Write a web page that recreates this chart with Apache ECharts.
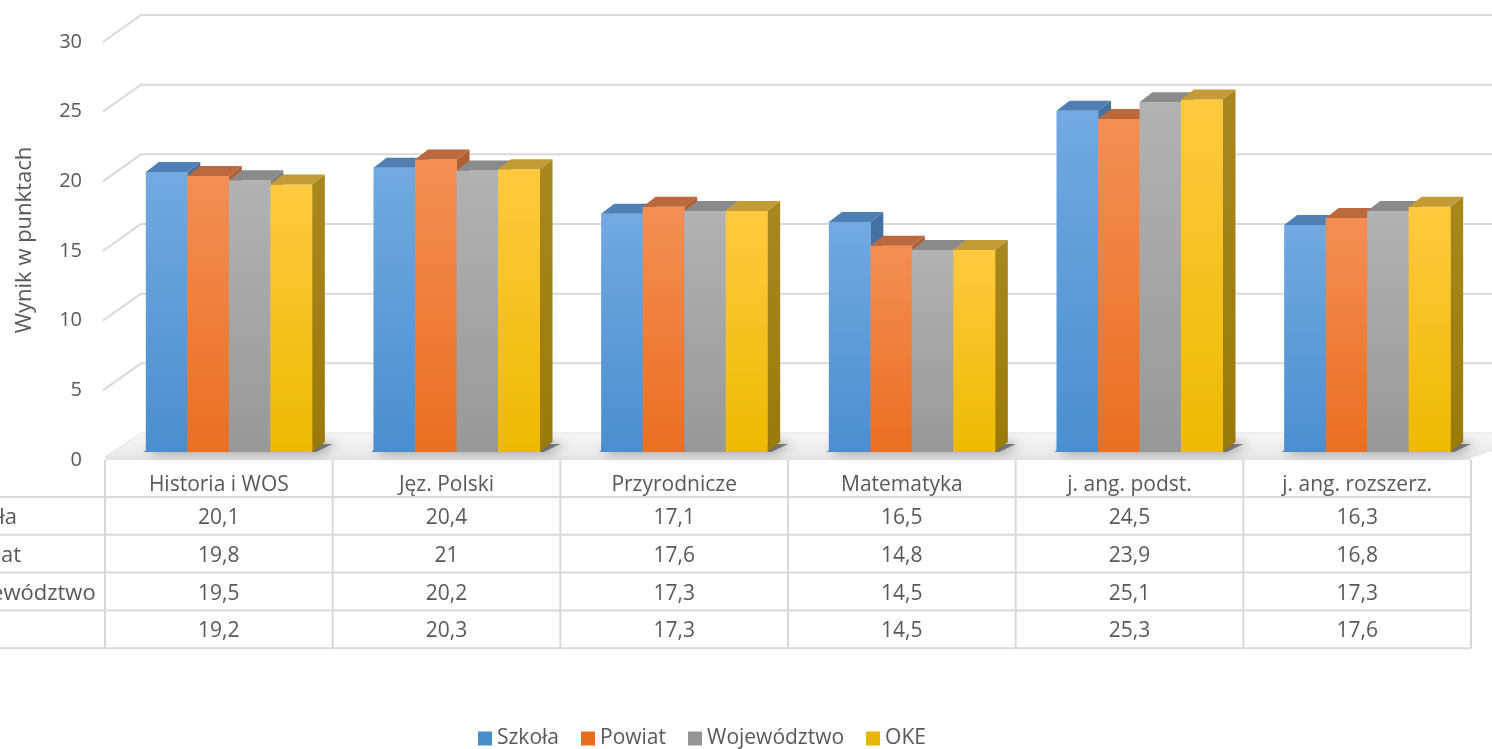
<!DOCTYPE html>
<html>
<head>
<meta charset="utf-8">
<script src="https://cdn.jsdelivr.net/npm/echarts@6/dist/echarts.min.js"></script>
<style>html,body{margin:0;padding:0;background:#fff}#c{width:1492px;height:749px}</style>
</head>
<body>
<div id="c"></div>
<script>
const categories = ['Historia i WOS', 'Jęz. Polski', 'Przyrodnicze', 'Matematyka', 'j. ang. podst.', 'j. ang. rozszerz.'];
const seriesNames = ['Szkoła', 'Powiat', 'Województwo', 'OKE'];
const szkola = [20.1, 20.4, 17.1, 16.5, 24.5, 16.3];
const powiat = [19.8, 21, 17.6, 14.8, 23.9, 16.8];
const wojewodztwo = [19.5, 20.2, 17.3, 14.5, 25.1, 17.3];
const oke = [19.2, 20.3, 17.3, 14.5, 25.3, 17.6];
const yTicks = [0, 5, 10, 15, 20, 25, 30];
const axisTitle = 'Wynik w punktach';

const values = [szkola, powiat, wojewodztwo, oke];
const FONT = '"Open Sans", "Noto Sans", sans-serif';
const TXT = '#595959';
const LINE = '#D9D9D9';

const palette = [
  {legend: '#4A8DCD', fTop: '#72A9E0', fBot: '#4A8ED1', top: '#5080B3', side: '#4672A3', sideBot: '#3E6898'},
  {legend: '#E96D1E', fTop: '#F48E55', fBot: '#EA6F20', top: '#BA683C', side: '#B25E30', sideBot: '#A65526'},
  {legend: '#959595', fTop: '#B2B2B2', fBot: '#989898', top: '#8A8A8A', side: '#808080', sideBot: '#767676'},
  {legend: '#E8B700', fTop: '#FFC93F', fBot: '#EEBA00', top: '#C49B34', side: '#A8871F', sideBot: '#9A7A08'}
];
const DX = 13, DY = -10;
const FRONT_DX = -10, FRONT_DY = 8;
const BACK_DX = 26, BACK_DY = -19;

function fmt(v) { return String(v).replace('.', ','); }

function barRender(s) {
  return function (params, api) {
    const i = api.value(0), v = api.value(1);
    const top = api.coord([i, v]);
    const base = api.coord([i, 0]);
    const band = api.size([1, 0])[0];
    const bw = band * 0.1823;
    const x0 = top[0] + (s - 2) * bw;
    const x1 = x0 + bw;
    const yt = top[1], yb = base[1];
    const c = palette[s];
    return {
      type: 'group',
      children: [
        {type: 'polygon', shape: {points: [[x1, yt], [x1 + DX, yt + DY], [x1 + DX, yb + DY], [x1, yb]]},
          style: {fill: new echarts.graphic.LinearGradient(0, 0, 0, 1, [{offset: 0, color: c.side}, {offset: 1, color: c.sideBot}])}},
        {type: 'rect', shape: {x: x0, y: yt, width: bw + 0.5, height: yb - yt},
          style: {fill: new echarts.graphic.LinearGradient(0, 0, 0, 1, [{offset: 0, color: c.fTop}, {offset: 1, color: c.fBot}])}},
        {type: 'polygon', shape: {points: [[x0, yt], [x1, yt], [x1 + DX, yt + DY], [x0 + DX, yt + DY]]},
          style: {fill: c.top}}
      ]
    };
  };
}

function wallsRender(params, api) {
  const v = api.value(1);
  const cs = params.coordSys;
  const gx = cs.x, gw = cs.width;
  const y = api.coord([0, v])[1];
  if (v === 0) {
    return {
      type: 'group',
      children: [
        {type: 'polygon', shape: {points: [[gx + FRONT_DX, y + FRONT_DY - 3], [gx + gw + FRONT_DX, y + FRONT_DY - 3], [gx + gw + BACK_DX + 40, y + BACK_DY], [gx + BACK_DX, y + BACK_DY]]},
          style: {fill: new echarts.graphic.LinearGradient(0, 0, 0, 1, [{offset: 0, color: '#F7F7F7'}, {offset: 1, color: '#E8E8E8'}]), stroke: '#E3E3E3', lineWidth: 1}},
        {type: 'rect', shape: {x: gx + FRONT_DX, y: y + FRONT_DY - 3, width: gw, height: 3},
          style: {fill: '#E4E4E4'}}
      ]
    };
  }
  return {
    type: 'polyline',
    shape: {points: [[gx + FRONT_DX - 2, y + FRONT_DY], [gx + BACK_DX, y + BACK_DY], [gx + gw + 80, y + BACK_DY]]},
    style: {stroke: LINE, lineWidth: 2, fill: null}
  };
}

function shadowRender(params, api) {
  const i = api.value(0);
  const base = api.coord([i, 0]);
  const band = api.size([1, 0])[0];
  const bw = band * 0.1823;
  const l = base[0] - 2 * bw, r = base[0] + 2 * bw;
  const y = base[1];
  return {
    type: 'polygon',
    shape: {points: [[l - 2, y], [r + 4, y], [r + DX + 8, y - 8], [l + DX - 6, y - 8]]},
    style: {fill: 'rgba(60,60,60,0.6)', shadowBlur: 12, shadowColor: 'rgba(0,0,0,0.75)', shadowOffsetX: 4, shadowOffsetY: 0}
  };
}

function tableRender(params, api) {
  const i = api.value(0);
  const base = api.coord([i, 0]);
  const band = api.size([1, 0])[0];
  const left = base[0] - band / 2 + FRONT_DX;
  const right = left + band;
  const cx = (left + right) / 2;
  const top = base[1] + FRONT_DY;
  const headH = 37;
  const rowH = 37.8;
  const bottom = top + headH + rowH * 4;
  const kids = [];
  const textStyle = (t, x, y, align, size) => ({type: 'text', style: {text: t, x: x, y: y, align: align || 'center', verticalAlign: 'middle', font: (size || 21) + 'px ' + FONT, fill: TXT}});
  kids.push({type: 'line', shape: {x1: left, y1: top, x2: left, y2: bottom}, style: {stroke: LINE, lineWidth: 2}});
  if (i === categories.length - 1) {
    kids.push({type: 'line', shape: {x1: right, y1: top, x2: right, y2: bottom}, style: {stroke: LINE, lineWidth: 2}});
  }
  for (let k = 1; k <= 4; k++) {
    const yy = top + headH + rowH * (k - 1);
    kids.push({type: 'line', shape: {x1: left, y1: yy, x2: right, y2: yy}, style: {stroke: LINE, lineWidth: 2}});
  }
  kids.push({type: 'line', shape: {x1: left, y1: bottom, x2: right, y2: bottom}, style: {stroke: LINE, lineWidth: 2}});
  kids.push(textStyle(categories[i], cx, top + 25));
  for (let s = 0; s < 4; s++) {
    kids.push(textStyle(fmt(values[s][i]), cx, top + headH + rowH * s + 21));
  }
  if (i === 0) {
    for (let k = 1; k <= 5; k++) {
      const yy = top + headH + rowH * (k - 1);
      kids.push({type: 'line', shape: {x1: 0, y1: yy, x2: left, y2: yy}, style: {stroke: LINE, lineWidth: 2}});
    }
    for (let s = 0; s < 4; s++) {
      kids.push(textStyle(seriesNames[s], left - 153, top + headH + rowH * s + 21, 'left', 22));
    }
  }
  return {type: 'group', children: kids};
}

const chart = echarts.init(document.getElementById('c'), null, {renderer: 'canvas'});

const series = [
  {type: 'custom', name: '_walls', xAxisIndex: 0, yAxisIndex: 0, z: 0, clip: false, silent: true,
    data: yTicks.map(v => [0, v]), encode: {x: 0, y: 1}, renderItem: wallsRender},
  {type: 'custom', name: '_shadow', xAxisIndex: 0, yAxisIndex: 0, z: 1, clip: false, silent: true,
    data: categories.map((c, i) => [i, 0]), encode: {x: 0, y: 1}, renderItem: shadowRender}
];
seriesNames.forEach((n, s) => {
  series.push({
    type: 'custom', name: n, xAxisIndex: 0, yAxisIndex: 0, z: 2, clip: false,
    itemStyle: {color: palette[s].legend},
    data: values[s].map((v, i) => [i, v]), encode: {x: 0, y: 1},
    renderItem: barRender(s)
  });
});
series.push({type: 'custom', name: '_table', xAxisIndex: 0, yAxisIndex: 0, z: 3, clip: false, silent: true,
  data: categories.map((c, i) => [i, 0]), encode: {x: 0, y: 1}, renderItem: tableRender});

chart.setOption({
  backgroundColor: '#fff',
  animation: false,
  grid: [
    {left: 115, right: 11, top: 34, height: 418},
    {left: 115, right: 11, top: 42, height: 418}
  ],
  xAxis: [
    {type: 'category', gridIndex: 0, data: categories, show: false},
    {type: 'category', gridIndex: 1, data: categories, show: false}
  ],
  yAxis: [
    {type: 'value', gridIndex: 0, min: 0, max: 30, interval: 5, show: false},
    {type: 'value', gridIndex: 1, min: 0, max: 30, interval: 5,
      axisLine: {show: false}, axisTick: {show: false}, splitLine: {show: false},
      axisLabel: {margin: 33, fontFamily: FONT, fontSize: 20, color: TXT}}
  ],
  legend: {
    left: 473, top: 723, itemWidth: 14, itemHeight: 14, itemGap: 22, icon: 'rect',
    data: seriesNames,
    textStyle: {fontFamily: FONT, fontSize: 21, color: TXT}
  },
  graphic: [
    {type: 'text', x: 25, y: 240, rotation: Math.PI / 2,
      style: {text: axisTitle, align: 'center', verticalAlign: 'middle', font: '22px ' + FONT, fill: TXT}}
  ],
  series: series
});
</script>
</body>
</html>
